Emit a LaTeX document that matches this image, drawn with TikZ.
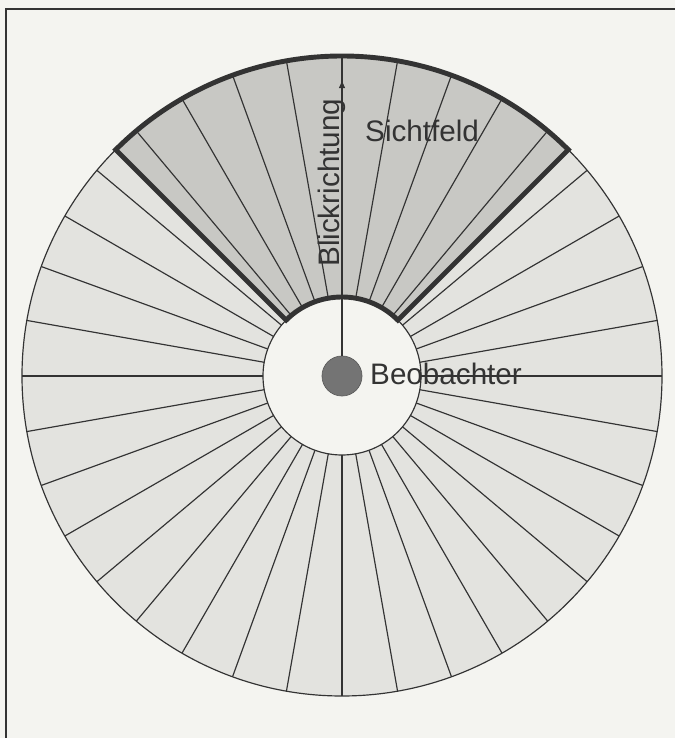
\documentclass[tikz,border=0pt]{standalone}
\usepackage{fontspec}
\setmainfont{Liberation Sans}
\usetikzlibrary{arrows.meta}
\definecolor{paper}{HTML}{F4F4F0}
\definecolor{ringgrey}{HTML}{E3E3DF}
\definecolor{fovgrey}{HTML}{C8C8C4}
\definecolor{dotgrey}{HTML}{747474}
\definecolor{ink}{HTML}{333333}

\begin{document}
\begin{tikzpicture}[x=0.03cm,y=0.03cm,font=\fontsize{25.3}{30}\selectfont,
 spoke/.style={draw=ink,line width=1pt},
 fov/.style={draw=ink,line width=4.2pt,line join=miter},
 lbl/.style={text=ink,inner sep=0pt},
 view/.style={draw=ink,line width=1pt,-{Triangle[length=6pt,width=5pt]}}]
% paper and frame
\fill[paper] (-342,-362) rectangle (333,376);
\useasboundingbox (-342,-362) rectangle (333,376);
\draw[ink,line width=1.5pt] (-336,-362) -- (-336,367) -- (333,367);
% ring and field of view
\draw[spoke,fill=ringgrey] (0,0) circle[radius=320];
\fill[fovgrey] (45:79) -- (45:320) arc (45:135:320) -- (135:79) arc (135:45:79) -- cycle;
\foreach \a in {0,10,...,350}
  \draw[spoke] (\a:79) -- (\a:320);
\draw[spoke,fill=paper] (0,0) circle[radius=79];
\draw[fov] (45:79) -- (45:320) arc (45:135:320) -- (135:79) arc (135:45:79) -- cycle;
% observer
\node[circle,fill=dotgrey,draw=dotgrey!80!black,line width=0.6pt,minimum size=1.2cm,inner sep=0pt] (obs) at (0,0) {};
\coordinate (tip) at (90:295);
\draw[view] (obs.north) -- (tip);
\node[lbl,anchor=base west] (beob) at (28,-9) {Beobachter};
\node[lbl,anchor=base west] (sicht) at (23,234) {Sichtfeld};
\node[lbl,anchor=base west,rotate=90] (blick) at (-3,109) {Blickrichtung};
\end{tikzpicture}
\end{document}
